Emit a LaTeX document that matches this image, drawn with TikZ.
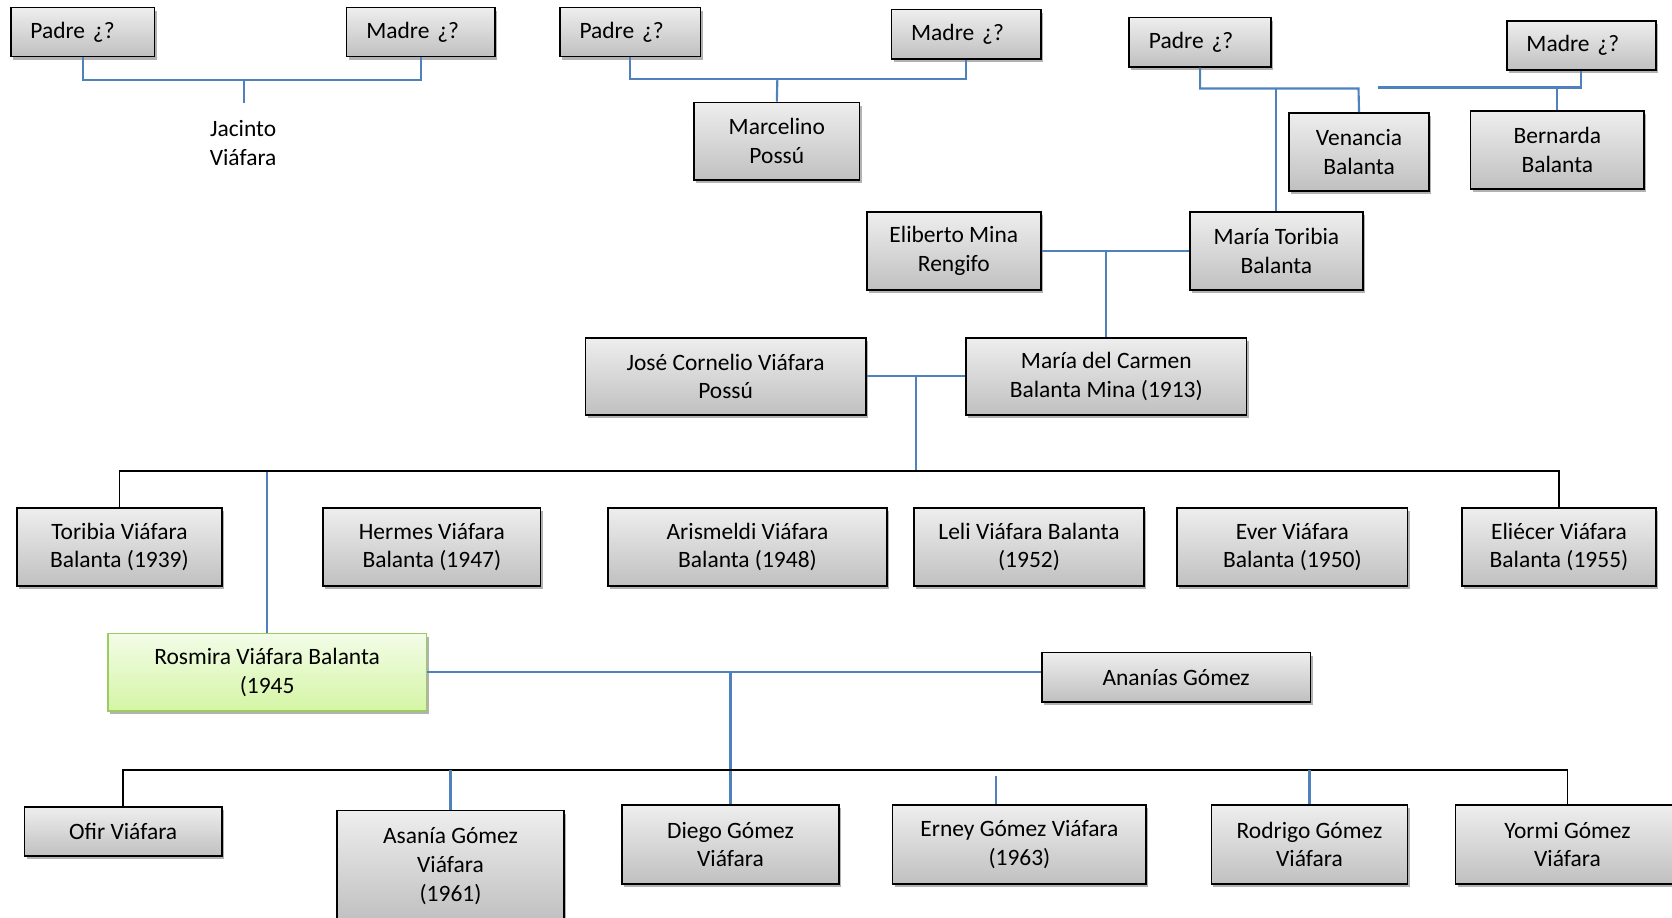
\documentclass[tikz,border=0pt]{standalone}
\usepackage{fontspec}
\setmainfont{Carlito}
\usepackage{tikz}
\usetikzlibrary{shadows}
\definecolor{lineaazul}{HTML}{4F81BD}
\definecolor{grisarriba}{HTML}{EEEEEE}
\definecolor{grisabajo}{HTML}{C0C0C0}
\definecolor{verdearriba}{HTML}{F3FCE8}
\definecolor{verdeabajo}{HTML}{D4F5A4}
\definecolor{verdeborde}{HTML}{9ACD5E}
\tikzset{texto/.style={font=\fontsize{22}{27}\selectfont, align=center, inner sep=0pt}}
\tikzset{persona/.style={texto, draw=black, line width=1.6pt,
                         top color=grisarriba, bottom color=grisabajo,
                         drop shadow={shadow xshift=2pt, shadow yshift=-3pt,
                                      opacity=.3, fill=black}}}
\tikzset{elegida/.style={persona, draw=verdeborde,
                         top color=verdearriba, bottom color=verdeabajo}}
\tikzset{tam/.style 2 args={minimum width=#1pt, minimum height=#2pt}}
\tikzset{progenitor/.style={persona, align=left, inner xsep=18.5pt,
                            text width=#1pt, minimum height=46pt}}
\tikzset{linea/.style={draw=lineaazul, line width=2pt}}
\tikzset{barra/.style={draw=black, line width=1.6pt}}

\begin{document}
\begin{tikzpicture}[x=1pt,y=-1pt]
    \useasboundingbox (0,0) rectangle (1568,860);
    % Abuelos y bisabuelos
    \node[progenitor=98]  (padre1) at (77.5,30)  {Padre ¿?};
    \node[progenitor=102] (madre1) at (394.5,30) {Madre ¿?};
    \node[texto] (jacinto) at (228,134) {Jacinto\\Viáfara};
    \node[progenitor=95]  (padre2) at (591,30)   {Padre ¿?};
    \node[progenitor=103] (madre2) at (906,32)   {Madre ¿?};
    \node[persona,tam={155}{73}] (marcelino) at (728.5,132.5) {Marcelino\\Possú};
    \node[progenitor=96]  (padre3) at (1125.5,39.5) {Padre ¿?};
    \node[progenitor=103] (madre3) at (1483,42.5)   {Madre ¿?};
    \node[persona,tam={131}{73}] (venancia) at (1274.5,142.5) {Venancia\\Balanta};
    \node[persona,tam={163}{73}] (bernarda) at (1460.5,140.5) {Bernarda\\Balanta};
    \node[persona,tam={163}{73}] (eliberto) at (894.5,235.5)  {Eliberto Mina\\Rengifo};
    \node[persona,tam={162}{73}] (mtoribia) at (1197,235.5)   {María Toribia\\Balanta};
    % Padres
    \node[persona,tam={263}{72}] (jose)    at (680.5,353)  {José Cornelio Viáfara\\Possú};
    \node[persona,tam={263}{72}] (mcarmen) at (1037.5,353) {María del Carmen\\Balanta Mina (1913)};
    % Hermanos
    \foreach \n/\a/\b/\t in {toribia/16/208/{Toribia Viáfara\\Balanta (1939)},
                            hermes/303/507/{Hermes Viáfara\\Balanta (1947)},
                            arismeldi/570/832/{Arismeldi Viáfara\\Balanta (1948)},
                            leli/857/1073/{Leli Viáfara Balanta\\(1952)},
                            ever/1104/1320/{Ever Viáfara\\Balanta (1950)},
                            eliecer/1371/1553/{Eliécer Viáfara\\Balanta (1955)}}{%
          \node[persona,minimum width=(\b-\a)*1pt,minimum height=73pt]
                (\n) at ({(\a+\b)/2},513) {\t};
        }
    \node[elegida,tam={299}{73}] (rosmira) at (250.5,630.5) {Rosmira Viáfara Balanta\\(1945};
    \node[persona,tam={252}{46}] (ananias) at (1103,635)    {Ananías Gómez};
    % Hijos
    \node[persona,tam={185}{46}]  (ofir)    at (115.5,780)  {Ofir Viáfara};
    \node[persona,tam={213}{104}] (asania)  at (422.5,812)  {Asanía Gómez\\Viáfara\\(1961)};
    \node[persona,tam={204}{74}]  (diego)   at (685,792)    {Diego Gómez\\Viáfara};
    \node[persona,tam={238}{74}]  (erney)   at (956,792)    {Erney Gómez Viáfara\\(1963)};
    \node[persona,tam={184}{74}]  (rodrigo) at (1228,792)   {Rodrigo Gómez\\Viáfara};
    \node[persona,tam={210}{74}]  (yormi)   at (1470,792)   {Yormi Gómez\\Viáfara};
    % Uniones
    \coordinate (u1) at (229,75);
    \coordinate (t1) at (229,97);
    \draw[linea] (padre1.south) |- (u1) -| (madre1.south);
    \draw[linea] (u1) -- (t1);
    \coordinate (u2) at (729,74);
    \draw[linea] (padre2.south) |- (u2) -| (madre2.south);
    \draw[linea] (u2) -- (marcelino.north);
    \coordinate (u3) at (1274,83);
    \draw[linea] (padre3.south) |- (u3) -- (venancia.north);
    \draw[linea] (mtoribia.north) -- (mtoribia.north |- u3);
    \coordinate (c3) at (1292,82);
    \draw[linea] (c3) -| (madre3.south);
    \draw[linea] (bernarda.north) -- (bernarda.north |- c3);
    \draw[linea] (eliberto.east) -- (mtoribia.west);
    \draw[linea] (mcarmen.north) -- (mcarmen.north |- eliberto.east);
    \draw[linea] (jose.east) -- (mcarmen.west);
    \coordinate (h1) at (859,442);
    \draw[linea] (h1) -- (h1 |- jose.east);
    \draw[linea] (rosmira.north) -- (rosmira.north |- h1);
    \draw[barra] (toribia.north) |- (eliecer.north |- h1) -- (eliecer.north);
    \draw[linea] (rosmira.east) -- (rosmira.east -| ananias.west);
    \coordinate (h2) at (685,722);
    \draw[linea] (diego.north) -- (diego.north |- rosmira.east);
    \draw[barra] (ofir.north) |- (yormi.north |- h2) -- (yormi.north);
    \draw[linea] (asania.north) -- (asania.north |- h2);
    \coordinate (e1) at (934,728);
    \draw[linea] (e1) -- (e1 |- erney.north);
    \draw[linea] (rodrigo.north) -- (rodrigo.north |- h2);
\end{tikzpicture}
\end{document}
